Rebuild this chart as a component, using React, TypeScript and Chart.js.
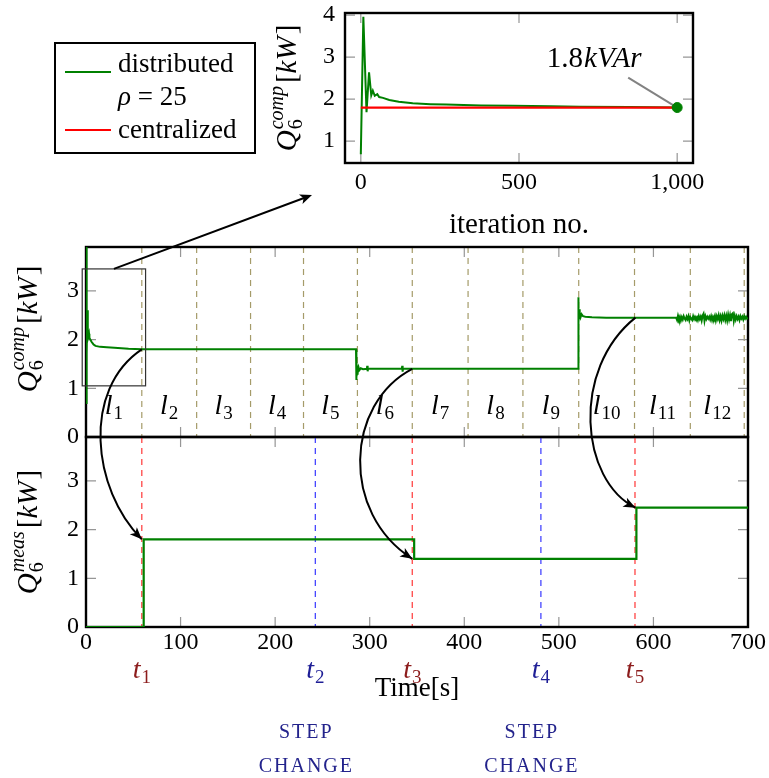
import React, { useEffect, useRef } from 'react';
import { Chart, registerables } from 'chart.js';

Chart.register(...registerables);

// ---------------- data ----------------
// inset: convergence over iterations
const insetDistributed: [number, number][] = [
  [0, 0.69], [8, 3.96], [18, 1.69], [26, 2.64], [33, 2.09], [38, 2.2], [44, 2.08], [52, 2.12],
  [58, 2.05], [70, 2.03], [90, 1.98], [120, 1.94], [164, 1.9], [220, 1.88], [270, 1.87],
  [380, 1.85], [481, 1.84], [600, 1.83], [693, 1.82], [850, 1.81], [1000, 1.8],
];
const insetCentralized: [number, number][] = [[0, 1.8], [1000, 1.8]];
const insetFinalPoint: [number, number] = [1000, 1.8];
const insetXTicks = [0, 500, 1000];
const insetYTicks = [1, 2, 3, 4];

// Q6 comp over time
const compSettle: [number, number][] = [
  [0, 0.7], [0.3, 3.96], [0.6, 3.96], [1.0, 1.7], [1.4, 2.6], [1.9, 2.08], [2.3, 2.2], [2.7, 2.08],
  [3.2, 2.12], [3.6, 2.04], [4.5, 2.0], [6, 1.95], [8, 1.9], [10, 1.87], [15, 1.85], [22, 1.84],
  [30, 1.83], [45, 1.81], [59, 1.8], [285.5, 1.8],
];
const compDrop: [number, number][] = [
  [285.6, 1.17], [285.8, 1.65], [286.0, 1.2], [286.3, 1.55], [286.6, 1.3], [287, 1.47], [287.5, 1.35],
  [288.2, 1.43], [289, 1.37], [290.5, 1.41], [293, 1.39], [297, 1.4], [297.4, 1.46], [297.8, 1.35],
  [298.2, 1.4], [334, 1.4], [334.4, 1.46], [334.8, 1.34], [335.2, 1.4], [520.3, 1.4],
];
const compJump: [number, number][] = [
  [520.4, 2.87], [520.6, 2.25], [520.8, 2.75], [521.1, 2.35], [521.4, 2.62], [521.8, 2.42],
  [522.3, 2.55], [523, 2.46], [524, 2.52], [525.5, 2.48], [528, 2.47], [535, 2.46], [550, 2.45], [624, 2.45],
];
const compNoise: [number, number][] = [
  [625, 2.4], [626, 2.49], [627, 2.42], [628, 2.47], [629, 2.39], [630, 2.46], [631, 2.41], [632, 2.48],
  [633, 2.43], [634, 2.4], [635, 2.47], [636, 2.42], [637, 2.48], [638, 2.39], [639, 2.46], [640, 2.43],
  [641, 2.4], [642, 2.48], [643, 2.42], [644, 2.47], [645, 2.43], [646, 2.46], [647, 2.4], [648, 2.48],
  [649, 2.42], [650, 2.47], [651, 2.39], [652, 2.49], [653, 2.53], [654, 2.38], [655, 2.48], [656, 2.42],
  [657, 2.47], [658, 2.43], [659, 2.47], [660, 2.41], [661, 2.48], [662, 2.4], [663, 2.47], [664, 2.43],
  [665, 2.49], [666, 2.39], [667, 2.48], [668, 2.42], [669, 2.5], [670, 2.4], [671, 2.48], [672, 2.39],
  [673, 2.49], [674, 2.42], [675, 2.5], [676, 2.4], [677, 2.49], [678, 2.39], [679, 2.51], [680, 2.41],
  [681, 2.5], [682, 2.38], [683, 2.52], [684, 2.54], [685, 2.38], [686, 2.49], [687, 2.41], [688, 2.48],
  [689, 2.42], [690, 2.47], [691, 2.4], [692, 2.48], [693, 2.43], [694, 2.47], [695, 2.41], [696, 2.48],
  [697, 2.43], [698, 2.47], [699, 2.43], [700, 2.45],
];

// Q6 meas over time (step series)
const measTimes = [0, 61, 347, 582, 700];
const measValues = [0, 1.8, 1.4, 2.45, 2.45];

const timeTicks = [0, 100, 200, 300, 400, 500, 600, 700];
const qTicks = [0, 1, 2, 3];
const lineBoundaries = [59, 117, 174, 230, 287, 345, 404, 462, 521, 580, 639, 696];
const stepEventTimes = [59, 242.5, 345, 481, 580.5];
const stepEventIsChange = [false, true, false, true, false];
const arrowLinks: [number, number][] = [[59, 1.8], [345, 1.4], [581, 2.45]];
const zoomWindow = { tMin: -4, tMax: 63, vMin: 1.05, vMax: 3.45 };

// ---------------- styles ----------------
const GREEN = 'rgb(0,128,0)';
const RED = 'rgb(255,0,0)';
const OLIVE = 'rgb(165,155,105)';
const TICK_GRAY = 'rgb(150,150,150)';
const DARK_RED = 'rgb(140,28,28)';
const DARK_BLUE = 'rgb(30,30,150)';
const NAVY = 'rgb(35,35,140)';
const FAM = "'Liberation Serif', 'DejaVu Serif', serif";
const TICK_LEN = 10;

const INSET = { left: 290, top: 0, w: 440, h: 250 };
const MID = { left: 0, top: 230, w: 769, h: 225 };
const BOT = { left: 0, top: 430, w: 769, h: 245 };

const f = (size: number, italic = false) => `${italic ? 'italic ' : ''}${size}px ${FAM}`;

type Part = { t: string; f: string; dy?: number; stack?: boolean; gap?: number };
function drawParts(ctx: CanvasRenderingContext2D, x0: number, y0: number, parts: Part[], align: 'left' | 'center') {
  let lastStart = 0, lastEnd = 0;
  const pos: number[] = [];
  for (const p of parts) {
    ctx.font = p.f;
    const w = ctx.measureText(p.t).width;
    let start: number;
    if (p.stack) { start = lastStart; lastEnd = Math.max(lastEnd, start + w); }
    else { start = lastEnd + (p.gap ?? 0); lastEnd = start + w; }
    lastStart = start;
    pos.push(start);
  }
  const ox = align === 'center' ? x0 - lastEnd / 2 : x0;
  ctx.textAlign = 'left';
  ctx.textBaseline = 'alphabetic';
  parts.forEach((p, i) => { ctx.font = p.f; ctx.fillText(p.t, ox + pos[i], y0 + (p.dy ?? 0)); });
}

function qTitle(sup: string): Part[] {
  return [
    { t: 'Q', f: f(29, true) },
    { t: '6', f: f(20), dy: 6, gap: 1 },
    { t: sup, f: f(20, true), dy: -13, stack: true },
    { t: '[', f: f(29), gap: 3 },
    { t: 'kW', f: f(29, true) },
    { t: ']', f: f(29), gap: 2 },
  ];
}

function arrowHead(ctx: CanvasRenderingContext2D, x: number, y: number, dx: number, dy: number) {
  const L = Math.hypot(dx, dy) || 1;
  const ux = dx / L, uy = dy / L;
  const len = 12, half = 5;
  const bx = x - ux * len, by = y - uy * len;
  const nx = x - ux * len * 0.75, ny = y - uy * len * 0.75;
  ctx.beginPath();
  ctx.moveTo(x, y);
  ctx.lineTo(bx - uy * half, by + ux * half);
  ctx.lineTo(nx, ny);
  ctx.lineTo(bx + uy * half, by - ux * half);
  ctx.closePath();
  ctx.fill();
}

function framePlugin(id: string, xTicks: number[], yTicks: number[]) {
  return {
    id,
    beforeDatasetsDraw(chart: any) {
      const { ctx, chartArea: a } = chart;
      const xs = chart.scales.x, ys = chart.scales.y;
      ctx.save();
      ctx.setLineDash([]);
      ctx.strokeStyle = TICK_GRAY;
      ctx.lineWidth = 1.2;
      ctx.beginPath();
      xTicks.forEach((v) => {
        const p = xs.getPixelForValue(v);
        ctx.moveTo(p, a.top); ctx.lineTo(p, a.top + TICK_LEN);
        ctx.moveTo(p, a.bottom); ctx.lineTo(p, a.bottom - TICK_LEN);
      });
      yTicks.forEach((v) => {
        const p = ys.getPixelForValue(v);
        ctx.moveTo(a.left, p); ctx.lineTo(a.left + TICK_LEN, p);
        ctx.moveTo(a.right, p); ctx.lineTo(a.right - TICK_LEN, p);
      });
      ctx.stroke();
      ctx.strokeStyle = '#000';
      ctx.lineWidth = 2.4;
      ctx.strokeRect(a.left, a.top, a.right - a.left, a.bottom - a.top);
      ctx.restore();
    },
  };
}

const zeroPad = (s: any) => { s.paddingTop = 0; s.paddingBottom = 0; s.paddingLeft = 0; s.paddingRight = 0; };

function yScale(min: number, max: number, ticks: number[], width: number, pad: number) {
  return {
    type: 'linear' as const,
    min, max,
    afterFit: (s: any) => { s.width = width; zeroPad(s); },
    afterBuildTicks: (s: any) => { s.ticks = ticks.map((v) => ({ value: v })); },
    grid: { display: false, drawTicks: false },
    border: { display: false },
    ticks: { color: '#000', padding: pad, font: { family: FAM, size: 24 } },
  };
}

function xScale(min: number, max: number, ticks: number[], height: number, pad: number, display = true) {
  return {
    type: 'linear' as const,
    min, max, display,
    afterFit: (s: any) => { s.height = height; zeroPad(s); },
    afterBuildTicks: (s: any) => { s.ticks = ticks.map((v) => ({ value: v })); },
    grid: { display: false, drawTicks: false },
    border: { display: false },
    ticks: {
      color: '#000', padding: pad, autoSkip: false, maxRotation: 0,
      font: { family: FAM, size: 24 },
      callback: (v: any) => Number(v).toLocaleString('en-US'),
    },
  };
}

const pts = (arr: [number, number][]) => arr.map(([x, y]) => ({ x, y }));
const baseOpts = {
  animation: false as const,
  responsive: false,
  maintainAspectRatio: false,
  plugins: { legend: { display: false }, tooltip: { enabled: false } },
  events: [] as any[],
};

export default function App() {
  const insetRef = useRef<HTMLCanvasElement>(null);
  const midRef = useRef<HTMLCanvasElement>(null);
  const botRef = useRef<HTMLCanvasElement>(null);
  const overRef = useRef<HTMLCanvasElement>(null);

  useEffect(() => {
    const insetAnno = {
      id: 'insetAnno',
      beforeDatasetsDraw(chart: any) {
        const { ctx } = chart;
        const px = chart.scales.x.getPixelForValue(insetFinalPoint[0]);
        const py = chart.scales.y.getPixelForValue(insetFinalPoint[1]);
        ctx.save();
        ctx.strokeStyle = 'rgb(130,130,130)';
        ctx.lineWidth = 2;
        ctx.beginPath();
        ctx.moveTo(px - 49, py - 30);
        ctx.lineTo(px, py);
        ctx.stroke();
        ctx.restore();
      },
      afterDraw(chart: any) {
        const { ctx } = chart;
        const px = chart.scales.x.getPixelForValue(insetFinalPoint[0]);
        const py = chart.scales.y.getPixelForValue(insetFinalPoint[1]);
        ctx.save();
        ctx.fillStyle = '#000';
        drawParts(ctx, px - 83, py - 41, [{ t: '1.8', f: f(29) }, { t: 'kVAr', f: f(29, true), gap: 1 }], 'center');
        ctx.restore();
      },
    };

    const inset = new Chart(insetRef.current!, {
      type: 'line',
      data: {
        datasets: [
          { data: pts([insetFinalPoint]), showLine: false, pointRadius: 5, pointBackgroundColor: GREEN, pointBorderColor: GREEN, borderColor: GREEN },
          { data: pts(insetCentralized), borderColor: RED, borderWidth: 2.2, pointRadius: 0, tension: 0 },
          { data: pts(insetDistributed), borderColor: GREEN, borderWidth: 2, pointRadius: 0, tension: 0 },
        ],
      },
      options: {
        ...baseOpts,
        layout: { padding: { top: 13, right: 37, bottom: 0, left: 0 } },
        scales: {
          x: xScale(-50, 1050, insetXTicks, 87, 5),
          y: yScale(0.48, 4.05, insetYTicks, 55, 10),
        },
      } as any,
      plugins: [framePlugin('insetFrame', insetXTicks, insetYTicks), insetAnno],
    });

    const midDeco = {
      id: 'midDeco',
      beforeDatasetsDraw(chart: any) {
        const { ctx, chartArea: a } = chart;
        ctx.save();
        ctx.strokeStyle = OLIVE;
        ctx.lineWidth = 1.2;
        ctx.setLineDash([6, 5]);
        lineBoundaries.forEach((t) => {
          const p = chart.scales.x.getPixelForValue(t);
          ctx.beginPath(); ctx.moveTo(p, a.top); ctx.lineTo(p, a.bottom); ctx.stroke();
        });
        ctx.restore();
      },
      afterDraw(chart: any) {
        const { ctx, chartArea: a } = chart;
        ctx.save();
        ctx.fillStyle = '#000';
        lineBoundaries.forEach((t, i) => {
          const prev = i === 0 ? 0 : lineBoundaries[i - 1];
          const c = chart.scales.x.getPixelForValue((prev + t) / 2);
          drawParts(ctx, c, a.bottom - 23, [{ t: 'l', f: f(28, true) }, { t: String(i + 1), f: f(19), dy: 5, gap: 1 }], 'center');
        });
        ctx.restore();
      },
    };

    const compSeries = [...compSettle, ...compDrop, ...compJump, ...compNoise];
    const mid = new Chart(midRef.current!, {
      type: 'line',
      data: { datasets: [{ data: pts(compSeries), borderColor: GREEN, borderWidth: 2, pointRadius: 0, tension: 0 }] },
      options: {
        ...baseOpts,
        layout: { padding: { top: 17, right: 21, bottom: 18, left: 0 } },
        scales: {
          x: xScale(0, 700, timeTicks, 0, 0, false),
          y: yScale(0, 3.9, qTicks, 86, 7),
        },
      } as any,
      plugins: [midDeco, framePlugin('midFrame', timeTicks, qTicks)],
    });

    const botDeco = {
      id: 'botDeco',
      beforeDatasetsDraw(chart: any) {
        const { ctx, chartArea: a } = chart;
        ctx.save();
        ctx.lineWidth = 1.3;
        ctx.setLineDash([6, 5]);
        stepEventTimes.forEach((t, i) => {
          const p = chart.scales.x.getPixelForValue(t);
          ctx.strokeStyle = stepEventIsChange[i] ? 'rgb(70,70,255)' : 'rgb(255,70,70)';
          ctx.beginPath(); ctx.moveTo(p, a.top); ctx.lineTo(p, a.bottom); ctx.stroke();
        });
        ctx.restore();
      },
    };

    const bot = new Chart(botRef.current!, {
      type: 'line',
      data: {
        datasets: [{
          data: measTimes.map((t, i) => ({ x: t, y: measValues[i] })),
          borderColor: GREEN, borderWidth: 2.2, pointRadius: 0, stepped: 'before',
        }],
      },
      options: {
        ...baseOpts,
        layout: { padding: { top: 7, right: 21, bottom: 0, left: 0 } },
        scales: {
          x: xScale(0, 700, timeTicks, 48, 1),
          y: yScale(0, 3.9, qTicks, 86, 7),
        },
      } as any,
      plugins: [botDeco, framePlugin('botFrame', timeTicks, qTicks)],
    });

    // ---------- overlay ----------
    const oc = overRef.current!;
    const ctx = oc.getContext('2d')!;
    ctx.clearRect(0, 0, oc.width, oc.height);
    const midPx = (t: number, v: number) => ({ x: MID.left + mid.scales.x.getPixelForValue(t), y: MID.top + mid.scales.y.getPixelForValue(v) });
    const botPx = (t: number, v: number) => ({ x: BOT.left + bot.scales.x.getPixelForValue(t), y: BOT.top + bot.scales.y.getPixelForValue(v) });
    const ia = inset.chartArea;
    const ba = bot.chartArea;

    // zoom box
    const zb1 = midPx(zoomWindow.tMin, zoomWindow.vMax);
    const zb2 = midPx(zoomWindow.tMax, zoomWindow.vMin);
    ctx.strokeStyle = 'rgb(50,50,50)';
    ctx.lineWidth = 1.2;
    ctx.strokeRect(zb1.x, zb1.y, zb2.x - zb1.x, zb2.y - zb1.y);

    // connector to inset
    ctx.strokeStyle = '#000';
    ctx.fillStyle = '#000';
    ctx.lineWidth = 2;
    const sx = (zb1.x + zb2.x) / 2, sy = zb1.y;
    const tx = INSET.left + ia.left - 33, ty = INSET.top + ia.bottom + 32;
    ctx.beginPath(); ctx.moveTo(sx, sy); ctx.lineTo(tx - 6, ty + 2.2); ctx.stroke();
    arrowHead(ctx, tx, ty, tx - sx, ty - sy);

    // curved arrows between panels
    const bends = [[-60, 40, -50, -50], [-67, 35, -72, -46], [-65, 52, -55, -27]];
    arrowLinks.forEach(([t, v], i) => {
      const s = midPx(t, v);
      const e = botPx(t, v);
      const b = bends[i];
      const c1 = { x: s.x + b[0], y: s.y + b[1] };
      const c2 = { x: e.x + b[2], y: e.y + b[3] };
      ctx.beginPath();
      ctx.moveTo(s.x, s.y);
      ctx.bezierCurveTo(c1.x, c1.y, c2.x, c2.y, e.x, e.y);
      ctx.stroke();
      arrowHead(ctx, e.x, e.y, e.x - c2.x, e.y - c2.y);
    });

    // legend
    ctx.fillStyle = '#fff';
    ctx.fillRect(55, 43, 200, 110);
    ctx.strokeStyle = '#000';
    ctx.lineWidth = 2;
    ctx.strokeRect(55, 43, 200, 110);
    ctx.lineWidth = 2;
    ctx.strokeStyle = GREEN;
    ctx.beginPath(); ctx.moveTo(65, 72); ctx.lineTo(111, 72); ctx.stroke();
    ctx.strokeStyle = RED;
    ctx.beginPath(); ctx.moveTo(65, 130); ctx.lineTo(111, 130); ctx.stroke();
    ctx.fillStyle = '#000';
    drawParts(ctx, 118, 72, [{ t: 'distributed', f: f(27) }], 'left');
    drawParts(ctx, 118, 105, [{ t: 'ρ', f: f(27, true) }, { t: ' = 25', f: f(27) }], 'left');
    drawParts(ctx, 118, 138, [{ t: 'centralized', f: f(27) }], 'left');

    // axis titles
    const rotTitle = (bx: number, cy: number, sup: string) => {
      ctx.save();
      ctx.translate(bx, cy);
      ctx.rotate(-Math.PI / 2);
      ctx.fillStyle = '#000';
      drawParts(ctx, 0, 0, qTitle(sup), 'center');
      ctx.restore();
    };
    rotTitle(296, 88, 'comp');
    rotTitle(37, 329, 'comp');
    rotTitle(37, 532, 'meas');

    ctx.fillStyle = '#000';
    drawParts(ctx, INSET.left + (ia.left + ia.right) / 2, 233, [{ t: 'iteration no.', f: f(29) }], 'center');

    // event labels
    stepEventTimes.forEach((t, i) => {
      const x = botPx(t, 0).x;
      ctx.fillStyle = stepEventIsChange[i] ? DARK_BLUE : DARK_RED;
      drawParts(ctx, x, 678, [{ t: 't', f: f(28, true) }, { t: String(i + 1), f: f(19), dy: 5, gap: 1 }], 'center');
      if (stepEventIsChange[i]) {
        ctx.fillStyle = NAVY;
        (ctx as any).letterSpacing = '2px';
        drawParts(ctx, x - 9, 738, [{ t: 'STEP', f: f(20) }], 'center');
        drawParts(ctx, x - 9, 772, [{ t: 'CHANGE', f: f(20) }], 'center');
        (ctx as any).letterSpacing = '0px';
      }
    });
    ctx.fillStyle = '#000';
    drawParts(ctx, BOT.left + (ba.left + ba.right) / 2, 696, [{ t: 'Time[s]', f: f(27) }], 'center');

    return () => {
      inset.destroy();
      mid.destroy();
      bot.destroy();
    };
  }, []);

  const abs = (l: number, t: number): React.CSSProperties => ({ position: 'absolute', left: l, top: t });
  return (
    <div style={{ position: 'absolute', left: 0, top: 0, width: 769, height: 778, background: '#fff', overflow: 'hidden' }}>
      <canvas ref={midRef} width={MID.w} height={MID.h} style={abs(MID.left, MID.top)} />
      <canvas ref={botRef} width={BOT.w} height={BOT.h} style={abs(BOT.left, BOT.top)} />
      <canvas ref={insetRef} width={INSET.w} height={INSET.h} style={abs(INSET.left, INSET.top)} />
      <canvas ref={overRef} width={769} height={778} style={{ ...abs(0, 0), pointerEvents: 'none' }} />
    </div>
  );
}
